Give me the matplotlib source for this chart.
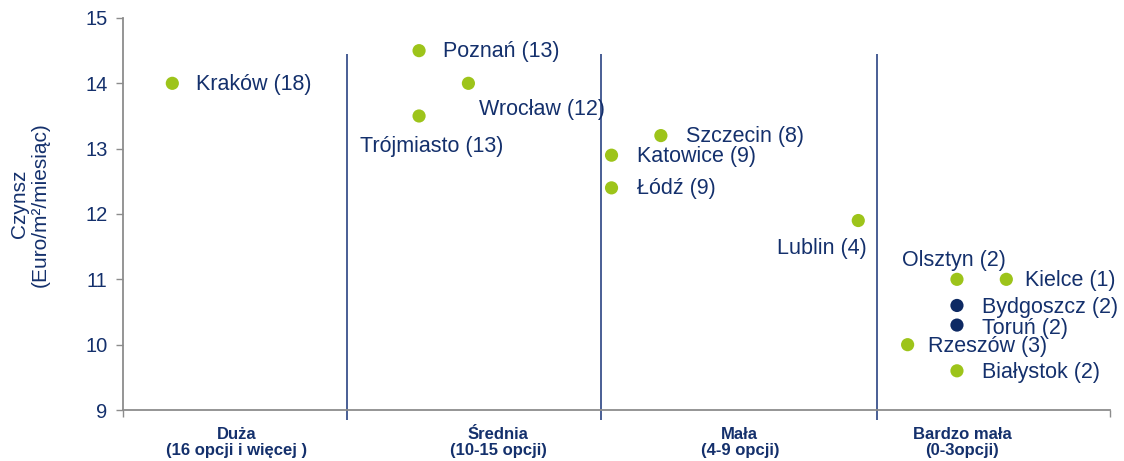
import matplotlib.pyplot as plt

# dane
miasta = ['Kraków (18)', 'Poznań (13)', 'Wrocław (12)', 'Trójmiasto (13)',
          'Szczecin (8)', 'Katowice (9)', 'Łódź (9)', 'Lublin (4)',
          'Olsztyn (2)', 'Kielce (1)', 'Bydgoszcz (2)', 'Toruń (2)',
          'Rzeszów (3)', 'Białystok (2)']
pozycja_x = [0.5, 3.0, 3.5, 3.0, 5.45, 4.95, 4.95, 7.45, 8.45, 8.95, 8.45, 8.45, 7.95, 8.45]
czynsz = [14.0, 14.5, 14.0, 13.5, 13.2, 12.9, 12.4, 11.9, 11.0, 11.0, 10.6, 10.3, 10.0, 9.6]
kolor_grupy = ['g', 'g', 'g', 'g', 'g', 'g', 'g', 'g', 'g', 'g', 'n', 'n', 'g', 'g']

kategorie = ['Duża\n(16 opcji i więcej )', 'Średnia\n(10-15 opcji)',
             'Mała\n(4-9 opcji)', 'Bardzo mała\n(0-3opcji)']
kategorie_x = [1.15, 3.8, 6.25, 8.5]
granice = [2.27, 4.84, 7.64]

# styl
ZIELONY = '#9DC41A'
GRANAT = '#0E2A63'
TEKST = '#14306C'
LINIA = '#2A4383'
SZARY = '#8C8C8C'

# przesunięcia etykiet (px) i wyrównanie
offsets = {
    'Kraków (18)': (24, -1, 'left', 'center'),
    'Poznań (13)': (24, -1, 'left', 'center'),
    'Wrocław (12)': (11, -26, 'left', 'center'),
    'Trójmiasto (13)': (13, -31, 'center', 'center'),
    'Szczecin (8)': (25, -1, 'left', 'center'),
    'Katowice (9)': (25, -1, 'left', 'center'),
    'Łódź (9)': (25, -1, 'left', 'center'),
    'Lublin (4)': (8, -28, 'right', 'center'),
    'Olsztyn (2)': (-3, 19, 'center', 'center'),
    'Kielce (1)': (19, -1, 'left', 'center'),
    'Bydgoszcz (2)': (25, -2, 'left', 'center'),
    'Toruń (2)': (25, -3, 'left', 'center'),
    'Rzeszów (3)': (20, -2, 'left', 'center'),
    'Białystok (2)': (25, -2, 'left', 'center'),
}

plt.rcParams['font.family'] = ['Liberation Sans', 'DejaVu Sans']

fig = plt.figure(figsize=(11.24, 4.61), dpi=100)
ax = fig.add_axes([0.1094, 0.1106, 0.8781, 0.8504])

kolory = [ZIELONY if k == 'g' else GRANAT for k in kolor_grupy]
ax.scatter(pozycja_x, czynsz, s=90, c=kolory, edgecolors='none', zorder=3)

for name, x, y in zip(miasta, pozycja_x, czynsz):
    dx, dy, ha, va = offsets[name]
    ax.annotate(name, (x, y), xytext=(dx * 0.72, dy * 0.72), textcoords='offset points',
                ha=ha, va=va, fontsize=15.5, color=TEKST)

ax.vlines(granice, 8.85, 14.45, colors=LINIA, linewidth=1.2, clip_on=False, zorder=2)

ax.set_xlim(0, 10)
ax.set_ylim(9, 15)
ax.set_yticks(range(9, 16))
ax.set_xticks([0, 10])
ax.set_xticklabels(['', ''])
ax.tick_params(axis='both', direction='out', length=5, color=SZARY, width=1)
ax.tick_params(axis='y', labelsize=14.5, labelcolor=TEKST, pad=6)

for s in ['top', 'right']:
    ax.spines[s].set_visible(False)
for s in ['left', 'bottom']:
    ax.spines[s].set_color(SZARY)
    ax.spines[s].set_linewidth(1.3)

ax.set_ylabel('Czynsz\n(Euro/m²/miesiąc)', fontsize=15, color=TEKST, linespacing=1.1)
ax.yaxis.set_label_coords(-0.074, 0.525)

for lab, x in zip(kategorie, kategorie_x):
    ax.annotate(lab, (x, 0), xycoords=('data', 'axes fraction'), xytext=(0, -12),
                textcoords='offset points', ha='center', va='top', fontsize=12,
                fontweight='bold', color=TEKST, linespacing=1.15,
                family=['Liberation Sans Narrow', 'Liberation Sans', 'DejaVu Sans'])

fig.savefig('out.png', dpi=100)
